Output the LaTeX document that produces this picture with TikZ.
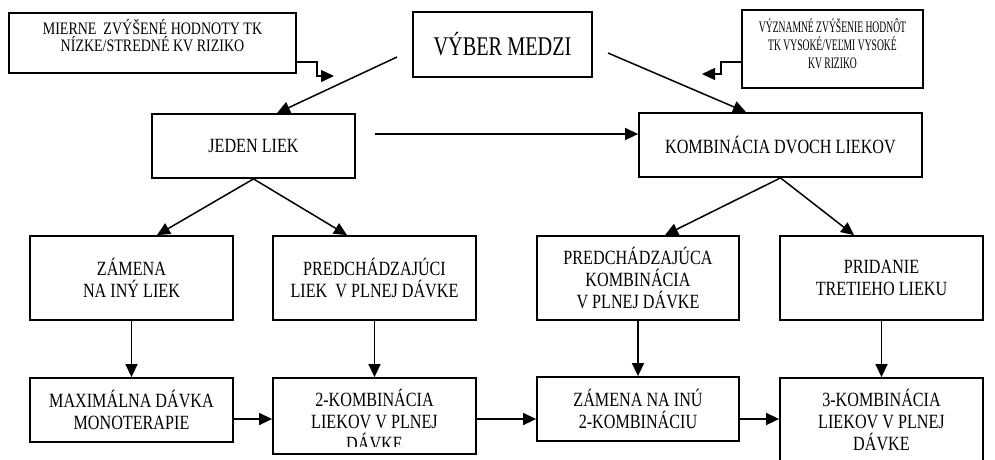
\documentclass[tikz,border=0pt]{standalone}
\usepackage{fontspec}
\setmainfont[FakeStretch=0.8]{Liberation Serif}
\newfontfamily\condfont[FakeStretch=0.6]{Liberation Serif}
\newfontfamily\titlefont[FakeStretch=0.75]{Liberation Serif}
\usetikzlibrary{arrows.meta,calc}
\tikzset{
  box/.style={draw, line width=1.8pt, rectangle, align=center, inner sep=2pt},
  plain/.style={align=center, inner sep=0pt},
  arr/.style={line width=1.5pt, -{Triangle[length=13pt,width=12pt]}},
  maintext/.style={font=\fontsize{20.2}{22}\selectfont},
}
\begin{document}
\begin{tikzpicture}[x=1pt,y=-1pt]
\clip (0,0) rectangle (995,459);
\fill[white] (0,0) rectangle (995,459);

% top row
\node[box, minimum width=287, minimum height=60] (mierne) at (152.5,43) {};
\node[plain, font=\fontsize{17.5}{17}\selectfont] (miernet) at (152.5,36) {MIERNE\ \ ZVÝŠENÉ HODNOTY TK\\NÍZKE/STREDNÉ KV RIZIKO};
\node[box, minimum width=179, minimum height=65, font=\titlefont\fontsize{27}{28}\selectfont] (vyber) at (502.5,44.5) {VÝBER MEDZI};
\node[box, minimum width=181, minimum height=78] (vyzn) at (832.5,49) {};
\node[plain, font=\condfont\fontsize{16}{18}\selectfont] (vyznt) at (832.5,44) {VÝZNAMNÉ ZVÝŠENIE HODNÔT\\TK VYSOKÉ/VEĽMI VYSOKÉ\\KV RIZIKO};

% second row
\node[box, maintext, minimum width=203, minimum height=64] (jeden) at (253.5,146) {JEDEN LIEK};
\node[box, maintext, minimum width=283, minimum height=64] (komb) at (780.5,145) {KOMBINÁCIA DVOCH LIEKOV};

% third row
\node[box, maintext, minimum width=203, minimum height=84] (zamena) at (131.5,278) {ZÁMENA\\NA INÝ LIEK};
\node[box, maintext, minimum width=203, minimum height=84] (predch) at (374.5,278) {PREDCHÁDZAJÚCI\\LIEK\ \ V PLNEJ DÁVKE};
\node[box, maintext, minimum width=202, minimum height=84] (predk) at (638,278) {PREDCHÁDZAJÚCA\\KOMBINÁCIA\\V PLNEJ DÁVKE};
\node[box, maintext, minimum width=203, minimum height=84] (pridanie) at (881.5,278) {PRIDANIE\\TRETIEHO LIEKU};

% fourth row
\node[box, maintext, minimum width=203, minimum height=64] (maxim) at (131.5,410) {MAXIMÁLNA DÁVKA\\MONOTERAPIE};
\node[box, minimum width=203, minimum height=76] (k2) at (374.5,416) {};
\begin{scope}
  \clip (274,379) rectangle (475,446);
  \node[plain, maintext] (k2t) at (374.5,420) {2-KOMBINÁCIA\\LIEKOV V PLNEJ\\DÁVKE};
\end{scope}
\node[box, maintext, minimum width=202, minimum height=64] (zam2) at (638,409) {ZÁMENA NA INÚ\\2-KOMBINÁCIU};
\node[box, minimum width=203, minimum height=92] (k3) at (881.5,424) {};
\node[plain, maintext] (k3t) at (881.5,420) {3-KOMBINÁCIA\\LIEKOV V PLNEJ\\DÁVKE};

% coordinates
\coordinate (e1) at (334,76);
\coordinate (e2) at (702,74);
\coordinate (vl) at (397,57);
\coordinate (vr) at (608,53);
\coordinate (hs) at (375,134);
\coordinate (hrow) at (0,419);

% connectors
\draw[arr] ($(mierne.east)+(0,19)$) -- ++(20,0) |- (e1);
\draw[arr] ($(vyzn.west)+(0,13)$) -- ++(-20,0) |- (e2);
\draw[arr] (vl) -- ($(jeden.north)+(23.5,0)$);
\draw[arr] (vr) -- ($(komb.north)+(-34.5,0)$);
\draw[arr] (hs) -- (komb.west |- hs);

\draw[arr] (jeden.south) -- ($(zamena.north)+(25.5,0)$);
\draw[arr] (jeden.south) -- ($(predch.north)+(-27.5,0)$);
\draw[arr] (komb.south) -- ($(predk.north)+(27,0)$);
\draw[arr] (komb.south) -- ($(pridanie.north)+(-27.5,0)$);

\draw[arr] (zamena.south) -- (maxim.north);
\draw[arr] (predch.south) -- (k2.north);
\draw[arr] (predk.south) -- (zam2.north);
\draw[arr] (pridanie.south) -- (k3.north);

\draw[arr] (maxim.east |- hrow) -- (k2.west |- hrow);
\draw[arr] (k2.east |- hrow) -- (zam2.west |- hrow);
\draw[arr] (zam2.east |- hrow) -- (k3.west |- hrow);
\end{tikzpicture}
\end{document}
